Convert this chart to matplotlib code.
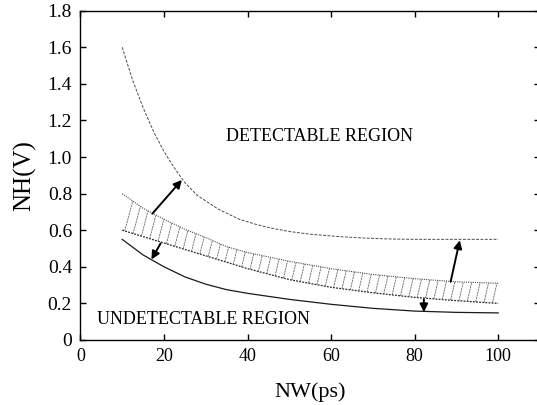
import numpy as np
from matplotlib import pyplot as plt

######### data #################################
# upper bound (dashed)
x_up = [10, 12.5, 15, 17.5, 20, 22.5, 25, 28, 33, 38, 42, 46, 50, 55, 62, 68, 74, 80, 90, 100]
y_up = [1.60, 1.42, 1.27, 1.14, 1.03, 0.94, 0.86, 0.79, 0.715, 0.66, 0.632, 0.61, 0.593, 0.578, 0.565, 0.557, 0.552, 0.55, 0.55, 0.55]

# band (upper and lower dotted edges)
x_band = [10, 15, 20, 25, 30, 35, 40, 50, 60, 70, 80, 90, 100]
y_band_hi = [0.80, 0.72, 0.66, 0.605, 0.56, 0.51, 0.478, 0.43, 0.39, 0.358, 0.335, 0.318, 0.31]
y_band_lo = [0.60, 0.565, 0.53, 0.495, 0.46, 0.425, 0.39, 0.33, 0.288, 0.258, 0.233, 0.215, 0.20]

# lower bound (solid)
x_low = [10, 15, 20, 25, 30, 35, 40, 50, 60, 70, 80, 90, 100]
y_low = [0.55, 0.465, 0.40, 0.345, 0.305, 0.275, 0.255, 0.222, 0.195, 0.173, 0.158, 0.151, 0.148]

# arrows (start, end)
arrows = [((17.2, 0.69), (24.3, 0.875)),
          ((19.2, 0.528), (17.0, 0.44)),
          ((88.6, 0.318), (90.8, 0.545)),
          ((82.2, 0.222), (82.2, 0.152))]

xticks = [0, 20, 40, 60, 80, 100]
yticks = [0, 0.2, 0.4, 0.6, 0.8, 1.0, 1.2, 1.4, 1.6, 1.8]
ytick_labels = ['0', '0.2', '0.4', '0.6', '0.8', '1.0', '1.2', '1.4', '1.6', '1.8']
################################################

plt.rcParams['font.family'] = ['Liberation Serif', 'DejaVu Serif']

fig = plt.figure(figsize=(5.37, 4.05), dpi=100)
ax = fig.add_axes([0.1497, 0.1605, 0.8559, 0.8133])

ax.plot(x_up, y_up, color='0.3', lw=0.7, ls=(0, (3, 1.5)))
ax.plot(x_band, y_band_hi, color='0.3', lw=0.8, ls=(0, (1, 1)))
ax.plot(x_band, y_band_lo, color='0.15', lw=0.9, ls=(0, (1.5, 1)))
ax.plot(x_low, y_low, color='0.1', lw=0.9)

# hatching inside the band
for xh in np.arange(10.6, 99, 2.0):
    lo = np.interp(xh, x_band, y_band_lo)
    dx = 10 * (np.interp(xh, x_band, y_band_hi) - lo)
    hi = np.interp(xh + dx, x_band, y_band_hi)
    ax.plot([xh, xh + dx], [lo, hi], color='0.4', lw=0.6, ls=(0, (2.5, 0.8)))

for (x0, y0), (x1, y1) in arrows:
    ax.annotate('', xy=(x1, y1), xytext=(x0, y0),
                arrowprops=dict(arrowstyle='-|>', color='black', lw=1.4,
                                mutation_scale=12, shrinkA=0, shrinkB=0))

ax.text(57.2, 1.11, 'DETECTABLE REGION', fontsize=13, ha='center', va='center')
ax.text(29.4, 0.11, 'UNDETECTABLE REGION', fontsize=13, ha='center', va='center')

ax.set_xlim(0, 110)
ax.set_ylim(0, 1.8)
ax.set_xticks(xticks)
ax.set_yticks(yticks)
ax.set_yticklabels(ytick_labels)
ax.tick_params(direction='in', top=True, right=True, length=4, width=1, pad=6)
ax.tick_params(axis='x', labelsize=13)
ax.tick_params(axis='y', labelsize=14)
ax.set_xlabel('NW(ps)', fontsize=16, labelpad=12)
ax.set_ylabel('NH(V)', fontsize=18, labelpad=8)
ax.spines['right'].set_visible(False)
for s in ax.spines.values():
    s.set_linewidth(1.0)

fig.savefig('out.png', dpi=100)
